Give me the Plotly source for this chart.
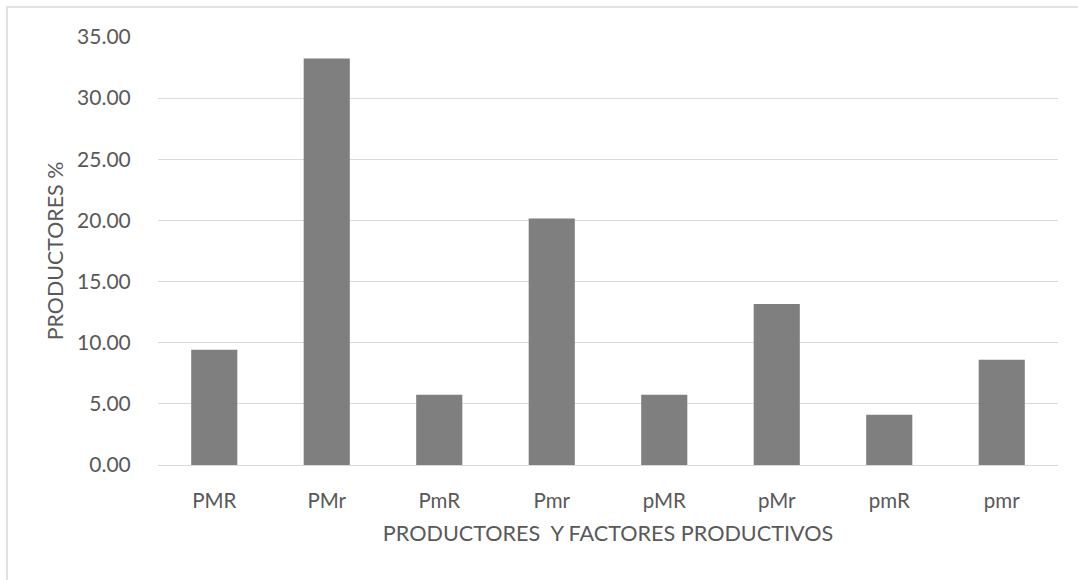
import plotly.graph_objects as go

# Productores por combinación de factores productivos (%)
categorias = ["PMR", "PMr", "PmR", "Pmr", "pMR", "pMr", "pmR", "pmr"]
porcentajes = [9.43, 33.25, 5.74, 20.16, 5.74, 13.17, 4.10, 8.61]
ticks_y = [0, 5, 10, 15, 20, 25, 30, 35]
etiquetas_y = [f"{v:.2f}" for v in ticks_y]

texto = "#595959"
fuente = "Lato, 'Open Sans', sans-serif"

fig = go.Figure(
    go.Bar(
        x=categorias,
        y=porcentajes,
        marker=dict(color="#7f7f7f", line=dict(width=0)),
        hoverinfo="x+y",
    )
)

fig.update_layout(
    width=1078,
    height=580,
    margin=dict(l=158, r=20, t=37, b=115),
    paper_bgcolor="white",
    plot_bgcolor="white",
    bargap=0.59,
    showlegend=False,
    font=dict(family=fuente, color=texto, size=20),
    shapes=[
        dict(
            type="rect", xref="paper", yref="paper",
            x0=-151 / 900, x1=1.1, y0=-0.4, y1=1 + 30 / 428,
            line=dict(color="#d9d9d9", width=1.5),
            fillcolor="rgba(0,0,0,0)", layer="below",
        )
    ],
)

fig.update_xaxes(
    type="category",
    showgrid=False,
    showline=False,
    zeroline=False,
    ticks="outside",
    ticklen=17,
    tickcolor="rgba(0,0,0,0)",
    tickfont=dict(size=20.5, color=texto),
    title=dict(
        text="PRODUCTORES&nbsp;&nbsp;Y FACTORES PRODUCTIVOS",
        font=dict(size=21.6, color=texto),
        standoff=15,
    ),
)

fig.update_yaxes(
    range=[0, 35],
    tickvals=ticks_y,
    ticktext=etiquetas_y,
    showgrid=True,
    gridcolor="#d9d9d9",
    gridwidth=1.2,
    zeroline=True,
    zerolinecolor="#d9d9d9",
    zerolinewidth=1.2,
    showline=False,
    ticks="outside",
    ticklen=22,
    tickcolor="rgba(0,0,0,0)",
    tickfont=dict(size=21, color=texto),
    title=dict(
        text="PRODUCTORES %",
        font=dict(size=21.4, color=texto),
        standoff=7,
    ),
)

fig.write_html("out.html")
